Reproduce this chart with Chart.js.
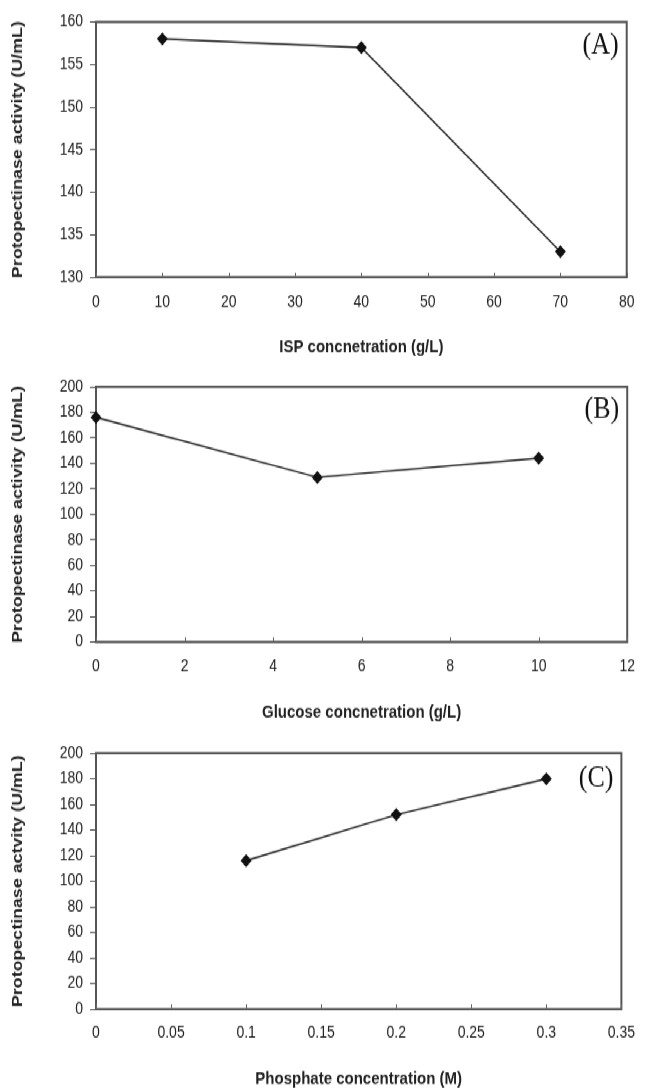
<!DOCTYPE html>
<html>
<head>
<meta charset="utf-8">
<title>Protopectinase activity</title>
<script src="https://cdn.jsdelivr.net/npm/chart.js@4.4.1/dist/chart.umd.min.js"></script>
<style>
  html, body { margin: 0; padding: 0; background: #fff; }
  body { width: 647px; height: 1090px; overflow: hidden; }
  /* the source figure is a little taller than it is wide, so stretch the whole page vertically */
  #page { position: relative; width: 647px; height: 916px; transform: scaleY(1.19); transform-origin: 0 0; }
  .panel { position: absolute; left: 0; width: 647px; }
  #panelA { top: 0; height: 302px; }
  #panelB { top: 302px; height: 306px; }
  #panelC { top: 608px; height: 308px; }
</style>
</head>
<body>
<div id="page">
  <div class="panel" id="panelA"><canvas id="chartA"></canvas></div>
  <div class="panel" id="panelB"><canvas id="chartB"></canvas></div>
  <div class="panel" id="panelC"><canvas id="chartC"></canvas></div>
</div>

<script>
// (A) ISP concentration
const ispConc = [10, 40, 70];
const ispActivity = [158, 157, 133];

// (B) Glucose concentration
const glucoseConc = [0, 5, 10];
const glucoseActivity = [176, 129, 144];

// (C) Phosphate concentration
const phosphateConc = [0.1, 0.2, 0.3];
const phosphateActivity = [116, 152, 180];

Chart.defaults.font.family = '"Liberation Sans", Arial, sans-serif';
Chart.defaults.font.size = 14;
Chart.defaults.color = '#222';

// box around the plot, small inward ticks on x, and the panel letter
const framePlugin = {
    id: 'frame',
    beforeDatasetsDraw(chart, args, opts) {
        const { ctx, chartArea: a, scales: { x } } = chart;
        ctx.save();
        ctx.strokeStyle = '#555';
        ctx.lineWidth = 2;
        ctx.strokeRect(a.left, a.top, a.right - a.left, a.bottom - a.top);
        ctx.lineWidth = 1;
        ctx.strokeStyle = '#666';
        x.ticks.forEach(t => {
            const px = Math.round(x.getPixelForValue(t.value)) + 0.5;
            ctx.beginPath();
            ctx.moveTo(px, a.bottom);
            ctx.lineTo(px, a.bottom - 4);
            ctx.stroke();
        });
        ctx.font = '26px "Liberation Serif", "Times New Roman", serif';
        ctx.fillStyle = '#111';
        ctx.textAlign = 'right';
        ctx.textBaseline = 'middle';
        ctx.fillText(opts.label, a.right - 8, a.top + opts.labelY);
        ctx.restore();
    }
};

function makeChart(id, cfg) {
    const ctx = document.getElementById(id).getContext('2d');
    return new Chart(ctx, {
        type: 'line',
        data: {
            datasets: [{
                data: cfg.xs.map((x, i) => ({ x: x, y: cfg.ys[i] })),
                borderColor: '#222',
                borderWidth: 1.4,
                pointStyle: 'rectRot',
                pointRadius: 4.5,
                pointBackgroundColor: '#111',
                pointBorderColor: '#111',
                clip: false
            }]
        },
        options: {
            responsive: true,
            maintainAspectRatio: false,
            animation: false,
            layout: {
                padding: { top: cfg.top, right: cfg.right, left: 0, bottom: 0 }
            },
            plugins: {
                legend: { display: false },
                tooltip: { enabled: false },
                frame: { label: cfg.label, labelY: cfg.labelY }
            },
            scales: {
                x: {
                    type: 'linear',
                    min: cfg.xMin,
                    max: cfg.xMax,
                    afterFit: s => { s.height = cfg.xHeight; },
                    border: { display: false },
                    grid: { display: false, drawTicks: false },
                    ticks: {
                        stepSize: cfg.xStep,
                        padding: cfg.xTickPad,
                        maxRotation: 0,
                        callback: v => String(Math.round(v * 100) / 100)
                    },
                    title: {
                        display: true,
                        text: cfg.xTitle,
                        font: { weight: 'bold', size: 15 },
                        padding: { top: 0, bottom: cfg.xTitlePad }
                    }
                },
                y: {
                    min: cfg.yMin,
                    max: cfg.yMax,
                    afterFit: s => { s.width = 96; },
                    border: { display: false },
                    grid: {
                        drawOnChartArea: false,
                        drawTicks: true,
                        tickLength: 6,
                        color: '#555'
                    },
                    ticks: { stepSize: cfg.yStep, padding: 7 },
                    title: {
                        display: true,
                        text: cfg.yTitle,
                        font: { weight: 'bold', size: 15 },
                        padding: { top: 9, bottom: 0 }
                    }
                }
            }
        },
        plugins: [framePlugin]
    });
}

makeChart('chartA', {
    xs: ispConc, ys: ispActivity,
    xMin: 0, xMax: 80, xStep: 10,
    yMin: 130, yMax: 160, yStep: 5,
    xTitle: 'ISP concnetration (g/L)',
    yTitle: 'Protopectinase activity (U/mL)',
    label: '(A)', labelY: 20,
    top: 18.5, right: 10, xHeight: 69, xTickPad: 12.5, xTitlePad: 1.5
});

makeChart('chartB', {
    xs: glucoseConc, ys: glucoseActivity,
    xMin: 0, xMax: 12, xStep: 2,
    yMin: 0, yMax: 200, yStep: 20,
    xTitle: 'Glucose concnetration (g/L)',
    yTitle: 'Protopectinase activity (U/mL)',
    label: '(B)', labelY: 19,
    top: 23, right: 11, xHeight: 68.5, xTickPad: 12, xTitlePad: 0
});

makeChart('chartC', {
    xs: phosphateConc, ys: phosphateActivity,
    xMin: 0, xMax: 0.35, xStep: 0.05,
    yMin: 0, yMax: 200, yStep: 20,
    xTitle: 'Phosphate concentration (M)',
    yTitle: 'Protopectinase actvity (U/mL)',
    label: '(C)', labelY: 21,
    top: 25, right: 18, xHeight: 68, xTickPad: 12, xTitlePad: 0
});
</script>
</body>
</html>
